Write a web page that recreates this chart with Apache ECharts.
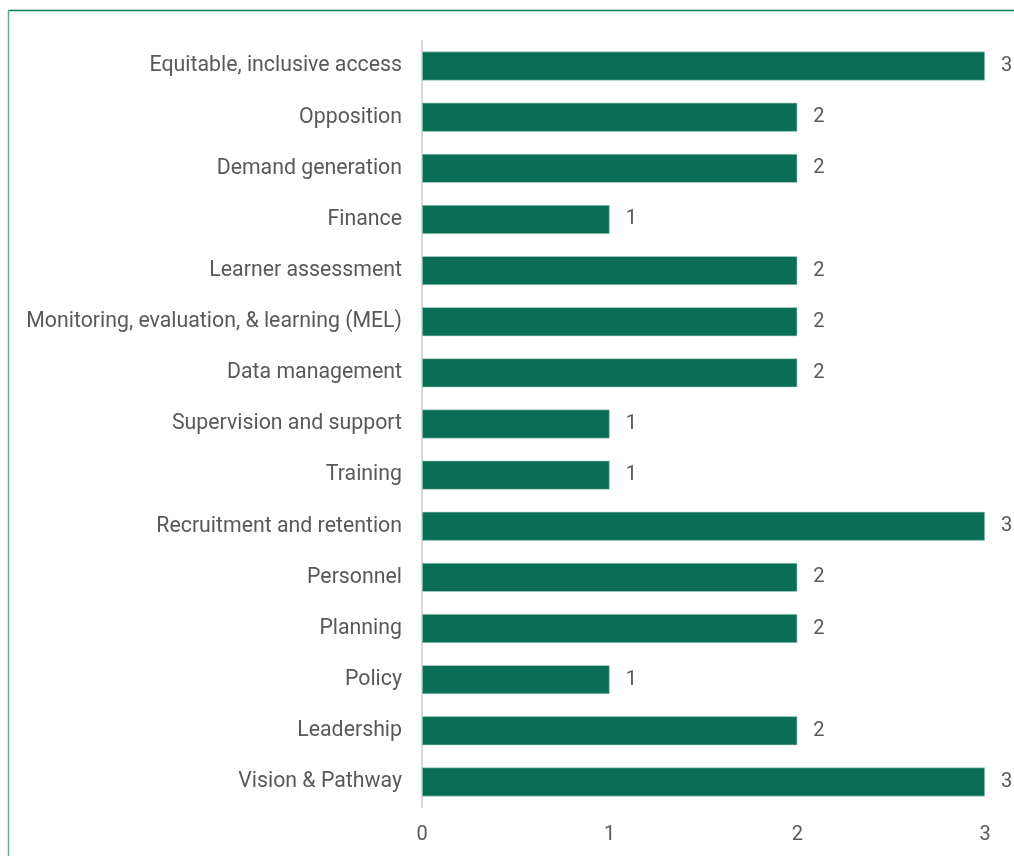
<!DOCTYPE html>
<html><head><meta charset="utf-8">
<script src="https://cdn.jsdelivr.net/npm/echarts@6/dist/echarts.min.js"></script>
<style>html,body{margin:0;padding:0;background:#fff}#c{width:1014px;height:856px}</style>
</head><body><div id="c"></div>
<script>
const categories = ["Equitable, inclusive access","Opposition","Demand generation","Finance","Learner assessment","Monitoring, evaluation, & learning (MEL)","Data management","Supervision and support","Training","Recruitment and retention","Personnel","Planning","Policy","Leadership","Vision & Pathway"];
const values = [3,2,2,1,2,2,2,1,1,3,2,2,1,2,3];
const xTicks = [0,1,2,3];

const chart = echarts.init(document.getElementById('c'), null, {renderer:'canvas'});
chart.setOption({
  animation:false,
  textStyle:{fontFamily:'Roboto'},
  graphic:[
    {type:'line', shape:{x1:8,y1:10.5,x2:1014,y2:10.5}, style:{stroke:'#0b7a5a',lineWidth:1.5}},
    {type:'line', shape:{x1:8.5,y1:10,x2:8.5,y2:856}, style:{stroke:'#5fae93',lineWidth:1.5}}
  ],
  grid:{left:422,right:29,top:40.5,bottom:48.5,containLabel:false},
  xAxis:{type:'value',min:0,max:3,interval:1,
    axisLine:{show:false},axisTick:{show:false},splitLine:{show:false},
    axisLabel:{color:'#595959',fontSize:20,margin:17,formatter:v=>xTicks.includes(v)?String(v):''}},
  yAxis:{type:'category',data:categories.slice().reverse(),
    axisLine:{show:true,lineStyle:{color:'#d9d9d9',width:2}},axisTick:{show:false},
    axisLabel:{color:'#595959',fontSize:21.3,margin:20}},
  series:[{type:'bar',data:values.slice().reverse(),barWidth:29,
    itemStyle:{color:'#0a6e55',borderColor:'#b9d9cd',borderWidth:0.6},
    label:{show:true,position:'right',distance:16,color:'#595959',fontSize:20}}]
});
</script></body></html>
